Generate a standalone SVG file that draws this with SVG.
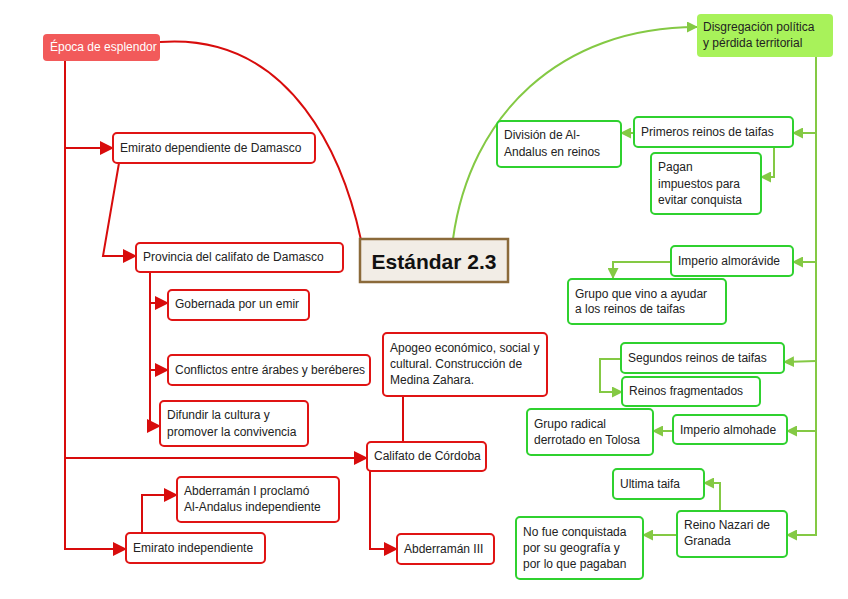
<svg xmlns="http://www.w3.org/2000/svg" width="848" height="599" viewBox="0 0 848 599">
<defs>
<style>
.t{font-family:"Liberation Sans",Arial,sans-serif;font-size:12px;fill:#222}
.r{fill:#fff;stroke:#e01414;stroke-width:2}
.g{fill:#fff;stroke:#2fd12f;stroke-width:2}
.cr{fill:none;stroke:#d80c0c;stroke-width:2}
.cg{fill:none;stroke:#84c944;stroke-width:2}
.cra{fill:none;stroke:#d80c0c;stroke-width:2;marker-end:url(#ar)}
.cga{fill:none;stroke:#84c944;stroke-width:2;marker-end:url(#ag)}
</style>
<marker id="ar" viewBox="0 0 14 14" refX="13" refY="7" markerWidth="14" markerHeight="14" markerUnits="userSpaceOnUse" orient="auto"><path d="M0,0 L14,7 L0,14 z" fill="#d80c0c"/></marker>
<marker id="ag" viewBox="0 0 11 11" refX="10" refY="5.5" markerWidth="11" markerHeight="11" markerUnits="userSpaceOnUse" orient="auto"><path d="M0,0 L11,5.5 L0,11 z" fill="#84c944"/></marker>
</defs>
<rect width="848" height="599" fill="#fff"/>
<g id="connectors">
<path class="cr" d="M160,42 C295,32 345,165 361,240"/>
<path class="cra" d="M65,61 V549 H126"/>
<path class="cra" d="M65,148 H113"/>
<path class="cra" d="M65,458 H367"/>
<path class="cra" d="M119,163 L103,256 H136"/>
<path class="cra" d="M150,272 V426 H160"/>
<path class="cra" d="M150,303 H168"/>
<path class="cra" d="M150,370 H168"/>
<path class="cr" d="M403,396 V442"/>
<path class="cra" d="M370,471 V549 H397"/>
<path class="cra" d="M142,533 V495 H177"/>
<path class="cga" d="M453,239 C470,115 560,27 697,27"/>
<path class="cga" d="M816,57 V535 H787"/>
<path class="cga" d="M816,133 H793"/>
<path class="cga" d="M816,262 H793"/>
<path class="cga" d="M816,361 L784,362"/>
<path class="cga" d="M816,431 H787"/>
<path class="cga" d="M634,133 H621"/>
<path class="cga" d="M774,147 V177 H761"/>
<path class="cga" d="M671,262 H613 V278"/>
<path class="cga" d="M621,359 H600 V392 H622"/>
<path class="cga" d="M673,431 H653"/>
<path class="cga" d="M720,511 V483 H704"/>
<path class="cga" d="M677,535 H643"/>
</g>
<g id="estandar">
<rect x="360" y="239" width="148" height="43" fill="#f2ede6" stroke="#8b6a3a" stroke-width="2.5"/>
<text x="434" y="269" text-anchor="middle" style="font-family:'Liberation Sans',Arial,sans-serif;font-size:21px;font-weight:bold;fill:#111">Estándar 2.3</text>
</g>
<g id="epoca">
<rect x="43" y="34" width="117" height="27" rx="4" fill="#f25a5a"/>
<text class="t" x="50" y="51" style="fill:#fff">Época de esplendor</text>
</g>
<g id="emirato-dep">
<rect class="r" x="113" y="133" width="202" height="30" rx="4"/>
<text class="t" x="120" y="152">Emirato dependiente de Damasco</text>
</g>
<g id="provincia">
<rect class="r" x="136" y="243" width="207" height="29" rx="4"/>
<text class="t" x="143" y="261">Provincia del califato de Damasco</text>
</g>
<g id="gobernada">
<rect class="r" x="168" y="290" width="141" height="30" rx="4"/>
<text class="t" x="175" y="308">Gobernada por un emir</text>
</g>
<g id="conflictos">
<rect class="r" x="168" y="355" width="202" height="30" rx="4"/>
<text class="t" x="175" y="374">Conflictos entre árabes y beréberes</text>
</g>
<g id="difundir">
<rect class="r" x="160" y="401" width="148" height="45" rx="4"/>
<text class="t" x="167" y="419">Difundir la cultura y</text>
<text class="t" x="167" y="436">promover la convivencia</text>
</g>
<g id="apogeo">
<rect class="r" x="383" y="333" width="164" height="63" rx="4"/>
<text class="t" x="390" y="352">Apogeo económico, social y</text>
<text class="t" x="390" y="368">cultural. Construcción de</text>
<text class="t" x="390" y="384">Medina Zahara.</text>
</g>
<g id="califato">
<rect class="r" x="367" y="442" width="119" height="29" rx="4"/>
<text class="t" x="374" y="460">Califato de Córdoba</text>
</g>
<g id="abderraman1">
<rect class="r" x="177" y="477" width="162" height="45" rx="4"/>
<text class="t" x="184" y="495">Abderramán I proclamó</text>
<text class="t" x="184" y="511">Al-Andalus independiente</text>
</g>
<g id="emirato-ind">
<rect class="r" x="126" y="533" width="139" height="30" rx="4"/>
<text class="t" x="133" y="552">Emirato independiente</text>
</g>
<g id="abderraman3">
<rect class="r" x="397" y="534" width="97" height="30" rx="4"/>
<text class="t" x="404" y="553">Abderramán III</text>
</g>
<g id="disgregacion">
<rect x="697" y="14" width="136" height="43" rx="4" fill="#a8f25a"/>
<text class="t" x="703" y="31">Disgregación política</text>
<text class="t" x="703" y="47">y pérdida territorial</text>
</g>
<g id="primeros">
<rect class="g" x="634" y="117" width="159" height="30" rx="4"/>
<text class="t" x="641" y="136">Primeros reinos de taifas</text>
</g>
<g id="division">
<rect class="g" x="497" y="121" width="124" height="46" rx="4"/>
<text class="t" x="504" y="139">División de Al-</text>
<text class="t" x="504" y="156">Andalus en reinos</text>
</g>
<g id="pagan">
<rect class="g" x="651" y="153" width="110" height="61" rx="4"/>
<text class="t" x="658" y="171">Pagan</text>
<text class="t" x="658" y="188">impuestos para</text>
<text class="t" x="658" y="204">evitar conquista</text>
</g>
<g id="almoravide">
<rect class="g" x="671" y="246" width="122" height="30" rx="4"/>
<text class="t" x="678" y="265">Imperio almorávide</text>
</g>
<g id="grupo-ayudar">
<rect class="g" x="568" y="279" width="158" height="45" rx="4"/>
<text class="t" x="575" y="298">Grupo que vino a ayudar</text>
<text class="t" x="575" y="313">a los reinos de taifas</text>
</g>
<g id="segundos">
<rect class="g" x="621" y="343" width="163" height="30" rx="4"/>
<text class="t" x="628" y="362">Segundos reinos de taifas</text>
</g>
<g id="fragmentados">
<rect class="g" x="622" y="377" width="138" height="29" rx="4"/>
<text class="t" x="629" y="395">Reinos fragmentados</text>
</g>
<g id="almohade">
<rect class="g" x="673" y="415" width="114" height="29" rx="4"/>
<text class="t" x="680" y="434">Imperio almohade</text>
</g>
<g id="grupo-radical">
<rect class="g" x="527" y="409" width="126" height="46" rx="4"/>
<text class="t" x="534" y="428">Grupo radical</text>
<text class="t" x="534" y="444">derrotado en Tolosa</text>
</g>
<g id="ultima">
<rect class="g" x="613" y="469" width="91" height="30" rx="4"/>
<text class="t" x="620" y="488">Ultima taifa</text>
</g>
<g id="nazari">
<rect class="g" x="677" y="511" width="110" height="46" rx="4"/>
<text class="t" x="684" y="529">Reino Nazari de</text>
<text class="t" x="684" y="545">Granada</text>
</g>
<g id="nofue">
<rect class="g" x="516" y="517" width="127" height="62" rx="4"/>
<text class="t" x="523" y="536">No fue conquistada</text>
<text class="t" x="523" y="552">por su geografía y</text>
<text class="t" x="523" y="568">por lo que pagaban</text>
</g>
</svg>
